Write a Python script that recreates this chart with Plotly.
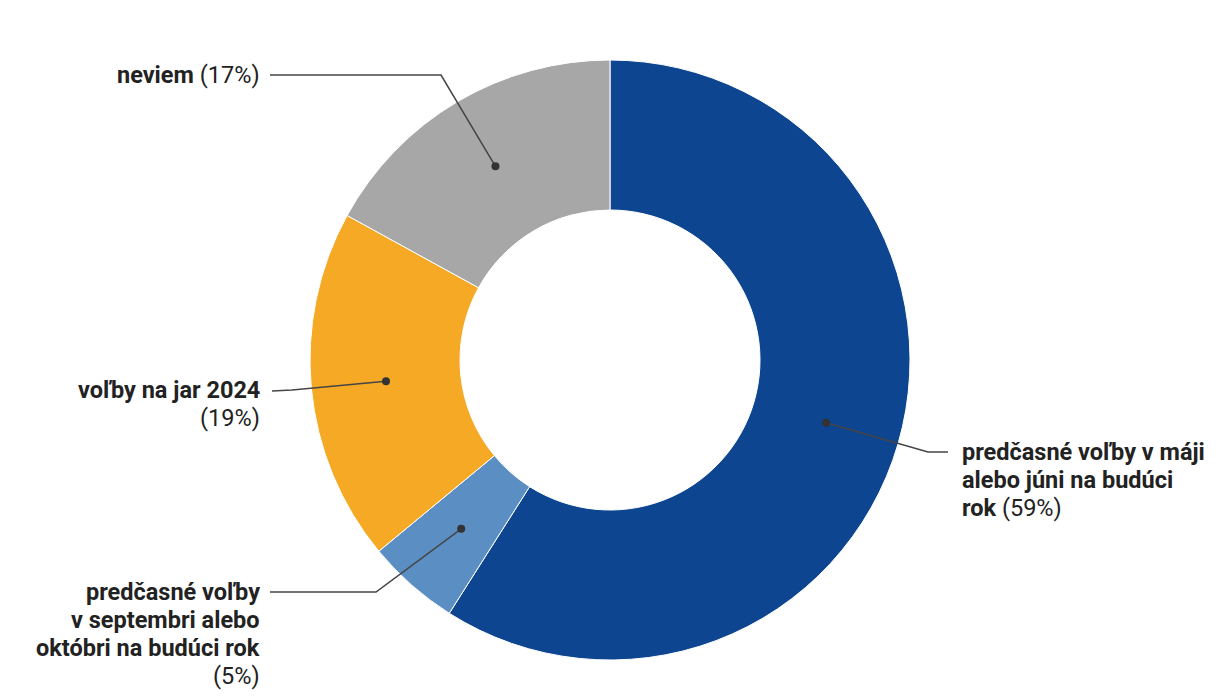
import math
import plotly.graph_objects as go

labels = ["predčasné voľby v máji alebo júni na budúci rok",
          "predčasné voľby v septembri alebo októbri na budúci rok",
          "voľby na jar 2024",
          "neviem"]
values = [59, 5, 19, 17]
label_lines = [
    ["<b>predčasné voľby v máji</b>", "<b>alebo júni na budúci</b>", "<b>rok</b> (59%)"],
    ["<b>predčasné voľby</b>", "<b>v septembri alebo</b>", "<b>októbri na budúci rok</b>", "(5%)"],
    ["<b>voľby na jar 2024</b>", "(19%)"],
    ["<b>neviem</b> (17%)"],
]
colors = ["#0d4591", "#5b8fc3", "#f6a924", "#a8a7a8"]

W, H = 1220, 700
OFF = 8  # page body margin
CX, CY, R_OUT = 610, 360, 300
HOLE = 0.5
LINE_H = 28
FONT_SIZE = 23.5

label_layout = [
    dict(elbow=(928, 452), end=(948, 452), text=(960, 452), align="left"),
    dict(elbow=(376, 592), end=(270, 592), text=(262, 592), align="right"),
    dict(elbow=(292, 390), end=(272, 391), text=(262, 390), align="right"),
    dict(elbow=(441, 75), end=(270, 75), text=(262, 75), align="right"),
]

def px(x, y):
    return (x - OFF) / W, 1 - (y - OFF) / H

d0 = px(CX - R_OUT, CY + R_OUT)
d1 = px(CX + R_OUT, CY - R_OUT)
fig = go.Figure(go.Pie(
    labels=labels, values=values, sort=False, direction="clockwise", rotation=0,
    hole=HOLE, marker=dict(colors=colors, line=dict(color="white", width=1)),
    textinfo="none", hoverinfo="label+percent", showlegend=False,
    domain=dict(x=[d0[0], d1[0]], y=[d0[1], d1[1]]),
))

total = sum(values)
cum = 0
shapes = []
annotations = []
r_mid = R_OUT * (1 + HOLE) / 2
for v, lines, lay in zip(values, label_lines, label_layout):
    mid = (cum + v / 2) / total * 2 * math.pi
    cum += v
    dx = CX + r_mid * math.sin(mid)
    dy = CY - r_mid * math.cos(mid)
    ex, ey = lay["elbow"]
    nx, ny = lay["end"]
    p0 = px(dx, dy); p1 = px(ex, ey); p2 = px(nx, ny)
    shapes.append(dict(type="path", xref="paper", yref="paper",
                       path=f"M {p0[0]} {p0[1]} L {p1[0]} {p1[1]} L {p2[0]} {p2[1]}",
                       line=dict(color="#454545", width=1.5)))
    rr = 4
    c0 = px(dx - rr, dy + rr); c1 = px(dx + rr, dy - rr)
    shapes.append(dict(type="circle", xref="paper", yref="paper",
                       x0=c0[0], x1=c1[0], y0=c0[1], y1=c1[1],
                       fillcolor="#333333", line=dict(width=0)))
    tx, ty = lay["text"]
    for i, ln in enumerate(lines):
        t = px(tx, ty + i * LINE_H)
        annotations.append(dict(
            x=t[0], y=t[1], xref="paper", yref="paper", text=ln, showarrow=False,
            xanchor="left" if lay["align"] == "left" else "right", yanchor="middle",
            font=dict(family="Roboto", size=FONT_SIZE, color="#222222"),
        ))

fig.update_layout(
    width=W, height=H, margin=dict(l=0, r=0, t=0, b=0),
    paper_bgcolor="white", plot_bgcolor="white",
    shapes=shapes, annotations=annotations,
    font=dict(family="Roboto"),
)
fig.write_html("out.html")
